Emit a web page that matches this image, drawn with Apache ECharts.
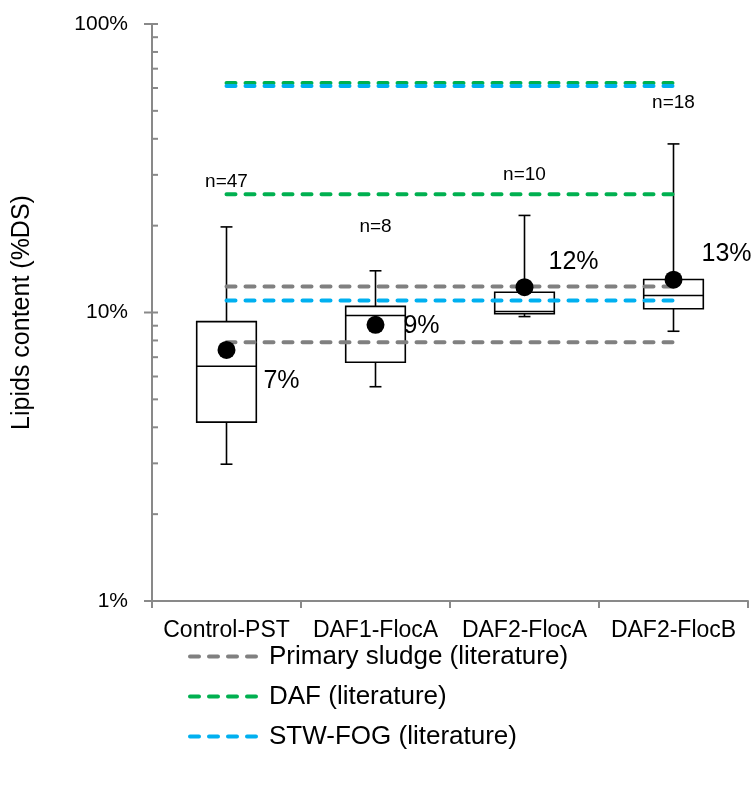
<!DOCTYPE html>
<html>
<head>
  <meta charset="utf-8">
  <title>Lipids content</title>
  <script src="https://cdn.jsdelivr.net/npm/echarts@6/dist/echarts.min.js"></script>
  <style>
    html, body { margin: 0; padding: 0; background: #fff; }
    #chart { width: 753px; height: 787px; }
  </style>
</head>
<body>
<div id="chart"></div>
<script>
  // categories and box statistics (% of DS)
  var categories = ['Control-PST', 'DAF1-FlocA', 'DAF2-FlocA', 'DAF2-FlocB'];
  var whiskerLow = [2.98, 5.53, 9.68, 8.61];
  var q1 = [4.17, 6.72, 9.9, 10.3];
  var median = [6.51, 9.76, 10.08, 11.46];
  var q3 = [9.3, 10.5, 11.76, 13.02];
  var whiskerHigh = [19.8, 13.95, 21.7, 38.4];
  var means = [7.42, 9.06, 12.24, 13.0];

  // sample counts and the level where their label sits
  var sampleCounts = [47, 8, 10, 18];
  var countLabelLevel = [28.5, 19.9, 30.1, 53.2];

  // literature ranges (two levels each)
  var primarySludge = [12.3, 7.88];
  var dafLit = [62.5, 25.7];
  var stwFog = [61.0, 11.0];

  // y axis ticks
  var yMajorTicks = [1, 10, 100];
  var yMinorTicks = [2, 3, 4, 5, 6, 7, 8, 9, 20, 30, 40, 50, 60, 70, 80, 90];

  var FONT = 'Liberation Sans, Arial, sans-serif';
  var AXIS_GREY = '#898989';

  var chart = echarts.init(document.getElementById('chart'));

  var boxData = categories.map(function (c, i) {
    return [i, whiskerLow[i], q1[i], median[i], q3[i], whiskerHigh[i]];
  });

  var tickData = yMajorTicks.map(function (v) { return [0, v, 1]; })
    .concat(yMinorTicks.map(function (v) { return [0, v, 0]; }));

  function flat(v) {
    return categories.map(function () { return v; });
  }

  function litSeries(name, color, levels) {
    return levels.map(function (v) {
      return {
        name: name,
        type: 'line',
        data: flat(v),
        symbol: 'none',
        silent: true,
        z: 3,
        color: color,
        lineStyle: {color: color, width: 4, type: [9, 10], cap: 'round'}
      };
    });
  }

  var meanOffsets = [[55, 31], [46, 1], [49, -25], [53, -26]];

  var series = [];

  // boxes and whiskers
  series.push({
    type: 'custom',
    z: 2,
    silent: true,
    data: boxData,
    renderItem: function (params, api) {
      var i = api.value(0);
      var band = api.size([1, 0])[0];
      var half = band * 0.2;
      var cap = band * 0.04;
      var x = api.coord([i, 1])[0];
      var yLow = api.coord([i, api.value(1)])[1];
      var yQ1 = api.coord([i, api.value(2)])[1];
      var yMed = api.coord([i, api.value(3)])[1];
      var yQ3 = api.coord([i, api.value(4)])[1];
      var yHigh = api.coord([i, api.value(5)])[1];
      var st = {stroke: '#000', lineWidth: 1.6, fill: null};
      return {
        type: 'group',
        children: [
          {type: 'line', shape: {x1: x, y1: yQ3, x2: x, y2: yHigh}, style: st},
          {type: 'line', shape: {x1: x - cap, y1: yHigh, x2: x + cap, y2: yHigh}, style: st},
          {type: 'line', shape: {x1: x, y1: yQ1, x2: x, y2: yLow}, style: st},
          {type: 'line', shape: {x1: x - cap, y1: yLow, x2: x + cap, y2: yLow}, style: st},
          {type: 'rect', shape: {x: x - half, y: yQ3, width: half * 2, height: yQ1 - yQ3},
            style: {stroke: '#000', lineWidth: 1.6, fill: '#fff'}},
          {type: 'line', shape: {x1: x - half, y1: yMed, x2: x + half, y2: yMed}, style: st}
        ]
      };
    }
  });

  series = series
    .concat(litSeries('Primary sludge (literature)', '#808080', primarySludge))
    .concat(litSeries('DAF (literature)', '#00B050', dafLit))
    .concat(litSeries('STW-FOG (literature)', '#00B0F0', stwFog));

  // means
  series.push({
    type: 'scatter',
    z: 5,
    silent: true,
    symbolSize: 18,
    itemStyle: {color: '#000', opacity: 1},
    data: means.map(function (m, i) {
      return {
        value: [i, m],
        label: {
          show: true,
          position: 'inside',
          offset: meanOffsets[i],
          formatter: Math.round(m) + '%',
          color: '#000',
          opacity: 1,
          fontSize: 25,
          fontFamily: FONT
        }
      };
    })
  });

  // n= labels
  series.push({
    type: 'scatter',
    z: 5,
    silent: true,
    symbolSize: 1,
    itemStyle: {color: 'rgba(0,0,0,0)', opacity: 1},
    data: sampleCounts.map(function (n, i) {
      return {
        value: [i, countLabelLevel[i]],
        label: {
          show: true,
          position: 'inside',
          formatter: 'n=' + n,
          color: '#000',
          opacity: 1,
          fontSize: 19,
          fontFamily: FONT
        }
      };
    })
  });

  // y axis ticks (major cross the axis, minor sit inside)
  series.push({
    type: 'custom',
    z: 6,
    silent: true,
    data: tickData,
    renderItem: function (params, api) {
      var band = api.size([1, 0])[0];
      var p = api.coord([0, api.value(1)]);
      var x0 = p[0] - band / 2;
      var major = api.value(2) === 1;
      return {
        type: 'line',
        shape: {x1: major ? x0 - 8 : x0, y1: p[1], x2: x0 + 6, y2: p[1]},
        style: {stroke: AXIS_GREY, lineWidth: 2}
      };
    }
  });

  chart.setOption({
    animation: false,
    backgroundColor: '#fff',
    textStyle: {fontFamily: FONT},
    grid: {left: 152, right: 5, top: 24, bottom: 186, containLabel: false},
    legend: {
      orient: 'vertical',
      left: 188,
      top: 643,
      padding: 0,
      itemWidth: 70,
      itemHeight: 20,
      itemGap: 13,
      selectedMode: false,
      itemStyle: {opacity: 0},
      lineStyle: {width: 4, type: [9, 10], cap: 'round'},
      data: ['Primary sludge (literature)', 'DAF (literature)', 'STW-FOG (literature)'],
      textStyle: {fontSize: 26, color: '#000', fontFamily: FONT, lineHeight: 27, padding: [0, 0, 0, 4]}
    },
    xAxis: {
      type: 'category',
      data: categories,
      boundaryGap: true,
      axisLine: {lineStyle: {color: AXIS_GREY, width: 2}},
      axisTick: {show: true, interval: 0, length: 7, lineStyle: {color: AXIS_GREY, width: 2}},
      axisLabel: {color: '#000', fontSize: 23, margin: 18, interval: 0, fontFamily: FONT},
      splitLine: {show: false}
    },
    yAxis: {
      type: 'log',
      logBase: 10,
      min: 1,
      max: 100,
      name: 'Lipids content (%DS)',
      nameLocation: 'middle',
      nameGap: 117,
      nameTextStyle: {color: '#000', fontSize: 25, fontFamily: FONT},
      axisLine: {show: true, lineStyle: {color: AXIS_GREY, width: 2}},
      axisTick: {show: false},
      axisLabel: {color: '#000', fontSize: 21, margin: 24, fontFamily: FONT, formatter: '{value}%'},
      splitLine: {show: false}
    },
    series: series
  });
</script>
</body>
</html>
